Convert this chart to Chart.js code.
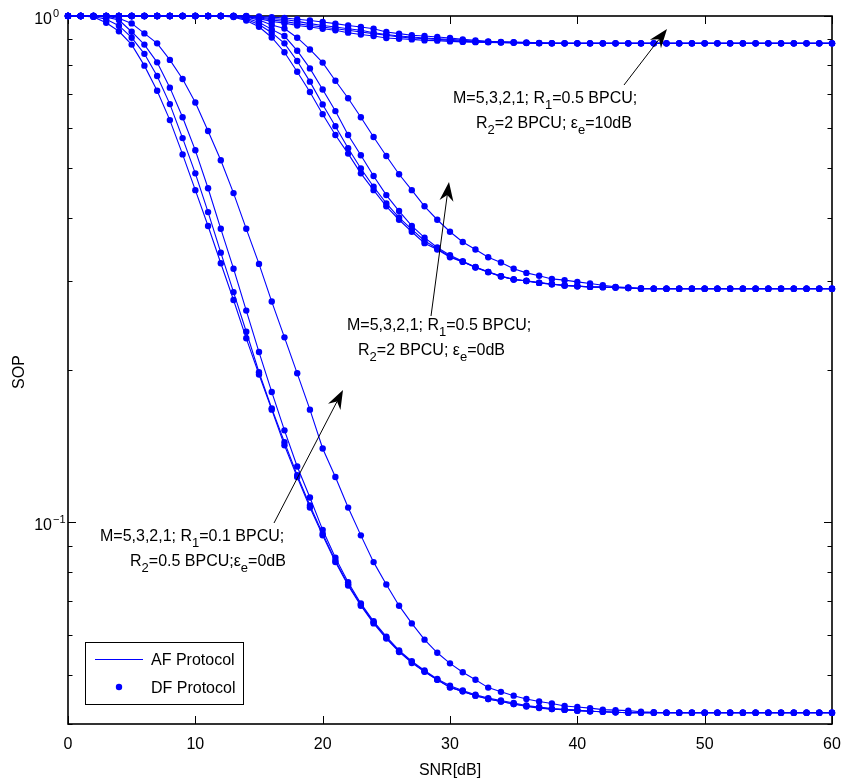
<!DOCTYPE html>
<html>
<head>
<meta charset="utf-8">
<script src="https://cdn.jsdelivr.net/npm/chart.js@4.4.1/dist/chart.umd.min.js"></script>
<style>
  html, body { margin: 0; padding: 0; background: #fff; }
  #wrap { width: 842px; height: 783px; }
</style>
</head>
<body>
<div id="wrap"><canvas id="sopChart" width="842" height="783"></canvas></div>
<script>
// SNR in dB, one sample per dB
const snrDb = [
  0, 1, 2, 3, 4, 5, 6, 7, 8, 9, 10, 11, 12, 13, 14, 15, 16, 17, 18, 19, 20,
  21, 22, 23, 24, 25, 26, 27, 28, 29, 30, 31, 32, 33, 34, 35, 36, 37, 38, 39, 40,
  41, 42, 43, 44, 45, 46, 47, 48, 49, 50, 51, 52, 53, 54, 55, 56, 57, 58, 59, 60,
];

// Group 1: R1=0.1 BPCU, R2=0.5 BPCU, eps_e=0dB
const sopG1M5 = [
  1, 1, 0.996, 0.970, 0.933, 0.878, 0.798, 0.712, 0.623, 0.533,
  0.453, 0.385, 0.325, 0.275, 0.231, 0.196, 0.167, 0.142, 0.123, 0.107,
  0.0943, 0.0835, 0.0751, 0.0685, 0.0632, 0.0590, 0.0555, 0.0528, 0.0507, 0.0489,
  0.0472, 0.0464, 0.0455, 0.0448, 0.0443, 0.0438, 0.0433, 0.0430, 0.0428, 0.0427,
  0.0425, 0.0424, 0.0423, 0.0422, 0.0421, 0.0421, 0.0421, 0.0421, 0.0421, 0.0421,
  0.0421, 0.0421, 0.0421, 0.0421, 0.0421, 0.0421, 0.0421, 0.0421, 0.0421, 0.0421,
  0.0421,
];
const sopG1M3 = [
  1, 1, 0.998, 0.985, 0.957, 0.906, 0.842, 0.761, 0.670, 0.574,
  0.489, 0.410, 0.341, 0.285, 0.238, 0.198, 0.168, 0.144, 0.124, 0.108,
  0.0950, 0.0840, 0.0755, 0.0688, 0.0635, 0.0592, 0.0557, 0.0530, 0.0508, 0.0489,
  0.0473, 0.0464, 0.0455, 0.0448, 0.0443, 0.0438, 0.0434, 0.0431, 0.0428, 0.0427,
  0.0425, 0.0424, 0.0423, 0.0422, 0.0421, 0.0421, 0.0421, 0.0421, 0.0421, 0.0421,
  0.0421, 0.0421, 0.0421, 0.0421, 0.0421, 0.0421, 0.0421, 0.0421, 0.0421, 0.0421,
  0.0421,
];
const sopG1M2 = [
  1, 1, 1, 0.995, 0.982, 0.931, 0.878, 0.810, 0.722, 0.631,
  0.543, 0.457, 0.380, 0.317, 0.262, 0.217, 0.181, 0.152, 0.129, 0.112,
  0.0967, 0.0852, 0.0762, 0.0692, 0.0638, 0.0595, 0.0559, 0.0532, 0.0510, 0.0491,
  0.0476, 0.0466, 0.0457, 0.0450, 0.0445, 0.0440, 0.0435, 0.0432, 0.0429, 0.0427,
  0.0426, 0.0424, 0.0423, 0.0422, 0.0421, 0.0421, 0.0421, 0.0421, 0.0421, 0.0421,
  0.0421, 0.0421, 0.0421, 0.0421, 0.0421, 0.0421, 0.0421, 0.0421, 0.0421, 0.0421,
  0.0421,
];
const sopG1M1 = [
  1, 1, 1, 0.998, 0.990, 0.967, 0.924, 0.883, 0.819, 0.751,
  0.675, 0.593, 0.519, 0.447, 0.380, 0.324, 0.273, 0.232, 0.197, 0.167,
  0.140, 0.123, 0.107, 0.0943, 0.0835, 0.0754, 0.0685, 0.0632, 0.0587, 0.0553,
  0.0527, 0.0506, 0.0489, 0.0472, 0.0463, 0.0455, 0.0448, 0.0443, 0.0439, 0.0434,
  0.0432, 0.0430, 0.0427, 0.0426, 0.0425, 0.0423, 0.0422, 0.0421, 0.0421, 0.0421,
  0.0421, 0.0421, 0.0421, 0.0421, 0.0421, 0.0421, 0.0421, 0.0421, 0.0421, 0.0421,
  0.0421,
];

// Group 2: R1=0.5 BPCU, R2=2 BPCU, eps_e=0dB
const sopG2M5 = [
  1, 1, 1, 1, 1, 1, 1, 1, 1, 1,
  1, 1, 1, 0.995, 0.980, 0.952, 0.907, 0.848, 0.776, 0.708,
  0.640, 0.582, 0.535, 0.489, 0.453, 0.421, 0.396, 0.375, 0.356, 0.346,
  0.334, 0.327, 0.3187, 0.312, 0.306, 0.3017, 0.2998, 0.2972, 0.2954, 0.2936,
  0.2927, 0.2918, 0.2915, 0.2910, 0.2903, 0.2895, 0.2895, 0.2895, 0.2895, 0.2895,
  0.2895, 0.2895, 0.2895, 0.2895, 0.2895, 0.2895, 0.2895, 0.2895, 0.2895, 0.2895,
  0.2895,
];
const sopG2M3 = [
  1, 1, 1, 1, 1, 1, 1, 1, 1, 1,
  1, 1, 1, 0.997, 0.985, 0.962, 0.927, 0.883, 0.815, 0.742,
  0.669, 0.606, 0.548, 0.500, 0.460, 0.4265, 0.400, 0.379, 0.360, 0.347,
  0.335, 0.327, 0.319, 0.3124, 0.3063, 0.3017, 0.2998, 0.2972, 0.2954, 0.2936,
  0.2927, 0.2918, 0.2915, 0.2910, 0.2903, 0.2895, 0.2895, 0.2895, 0.2895, 0.2895,
  0.2895, 0.2895, 0.2895, 0.2895, 0.2895, 0.2895, 0.2895, 0.2895, 0.2895, 0.2895,
  0.2895,
];
const sopG2M2 = [
  1, 1, 1, 1, 1, 1, 1, 1, 1, 1,
  1, 1, 1, 1, 0.990, 0.972, 0.941, 0.913, 0.854, 0.788,
  0.716, 0.649, 0.582, 0.531, 0.483, 0.443, 0.412, 0.385, 0.365, 0.349,
  0.337, 0.328, 0.3195, 0.3125, 0.3065, 0.302, 0.3000, 0.2975, 0.2956, 0.2938,
  0.2928, 0.2919, 0.2915, 0.2910, 0.2903, 0.2895, 0.2895, 0.2895, 0.2895, 0.2895,
  0.2895, 0.2895, 0.2895, 0.2895, 0.2895, 0.2895, 0.2895, 0.2895, 0.2895, 0.2895,
  0.2895,
];
const sopG2M1 = [
  1, 1, 1, 1, 1, 1, 1, 1, 1, 1,
  1, 1, 1, 1, 0.995, 0.982, 0.960, 0.945, 0.906, 0.859,
  0.809, 0.745, 0.688, 0.631, 0.577, 0.529, 0.487, 0.453, 0.421, 0.396,
  0.375, 0.358, 0.346, 0.334, 0.326, 0.317, 0.311, 0.307, 0.3026, 0.3009,
  0.2985, 0.2963, 0.2940, 0.2918, 0.2910, 0.2900, 0.2895, 0.2895, 0.2895, 0.2895,
  0.2895, 0.2895, 0.2895, 0.2895, 0.2895, 0.2895, 0.2895, 0.2895, 0.2895, 0.2895,
  0.2895,
];

// Group 3: R1=0.5 BPCU, R2=2 BPCU, eps_e=10dB
const sopG3M5 = [
  1, 1, 1, 1, 1, 1, 1, 1, 1, 1,
  1, 1, 1, 1, 0.997, 0.988, 0.975, 0.968, 0.958, 0.951,
  0.944, 0.937, 0.927, 0.919, 0.913, 0.905, 0.902, 0.899, 0.895, 0.894,
  0.891, 0.889, 0.888, 0.887, 0.886, 0.885, 0.884, 0.883, 0.883, 0.883,
  0.883, 0.883, 0.883, 0.883, 0.883, 0.883, 0.883, 0.883, 0.883, 0.883,
  0.883, 0.883, 0.883, 0.883, 0.883, 0.883, 0.883, 0.883, 0.883, 0.883,
  0.883,
];
const sopG3M3 = [
  1, 1, 1, 1, 1, 1, 1, 1, 1, 1,
  1, 1, 1, 1, 0.998, 0.992, 0.982, 0.976, 0.966, 0.958,
  0.951, 0.944, 0.937, 0.930, 0.923, 0.916, 0.909, 0.905, 0.902, 0.899,
  0.895, 0.891, 0.889, 0.889, 0.887, 0.886, 0.885, 0.884, 0.883, 0.883,
  0.883, 0.883, 0.883, 0.883, 0.883, 0.883, 0.883, 0.883, 0.883, 0.883,
  0.883, 0.883, 0.883, 0.883, 0.883, 0.883, 0.883, 0.883, 0.883, 0.883,
  0.883,
];
const sopG3M2 = [
  1, 1, 1, 1, 1, 1, 1, 1, 1, 1,
  1, 1, 1, 1, 0.999, 0.995, 0.988, 0.984, 0.976, 0.966,
  0.958, 0.951, 0.944, 0.937, 0.927, 0.919, 0.913, 0.909, 0.905, 0.902,
  0.899, 0.895, 0.891, 0.889, 0.888, 0.887, 0.885, 0.884, 0.883, 0.883,
  0.883, 0.883, 0.883, 0.883, 0.883, 0.883, 0.883, 0.883, 0.883, 0.883,
  0.883, 0.883, 0.883, 0.883, 0.883, 0.883, 0.883, 0.883, 0.883, 0.883,
  0.883,
];
const sopG3M1 = [
  1, 1, 1, 1, 1, 1, 1, 1, 1, 1,
  1, 1, 1, 1, 1, 0.998, 0.995, 0.991, 0.985, 0.980,
  0.973, 0.966, 0.958, 0.951, 0.944, 0.930, 0.923, 0.916, 0.913, 0.909,
  0.905, 0.899, 0.895, 0.891, 0.889, 0.888, 0.887, 0.885, 0.884, 0.883,
  0.883, 0.883, 0.883, 0.883, 0.883, 0.883, 0.883, 0.883, 0.883, 0.883,
  0.883, 0.883, 0.883, 0.883, 0.883, 0.883, 0.883, 0.883, 0.883, 0.883,
  0.883,
];

// Axis ticks
const xTicks = [0, 10, 20, 30, 40, 50, 60];
const yMajorTicks = [0.1, 1];
const yMinorTicks = [0.04, 0.05, 0.06, 0.07, 0.08, 0.09, 0.2, 0.3, 0.4, 0.5, 0.6, 0.7, 0.8, 0.9];
const yTickExponents = ["-1", "0"];

const legendLabels = ["AF Protocol", "DF Protocol"];

const BLUE = "#0000ff";
const FONT = "16px 'Liberation Sans', Arial, sans-serif";
const SUB_FONT = "13px 'Liberation Sans', Arial, sans-serif";

const curves = [
  sopG1M5, sopG1M3, sopG1M2, sopG1M1,
  sopG2M5, sopG2M3, sopG2M2, sopG2M1,
  sopG3M5, sopG3M3, sopG3M2, sopG3M1,
];

const toPoints = (vals) => vals.map((v, i) => ({ x: snrDb[i], y: v }));

const datasets = [];
// AF: solid lines
curves.forEach((vals) => {
  datasets.push({
    data: toPoints(vals),
    borderColor: BLUE,
    borderWidth: 1.1,
    pointRadius: 0,
    fill: false,
    tension: 0,
    clip: false,
  });
});
// DF: dots only
curves.forEach((vals) => {
  datasets.push({
    data: toPoints(vals),
    showLine: false,
    pointRadius: 3.2,
    pointBackgroundColor: BLUE,
    pointBorderColor: BLUE,
    pointBorderWidth: 0,
    clip: false,
  });
});

// Text with sub-scripts: parts = [[text, isSub], ...]
function drawRich(ctx, x, y, parts) {
  let cx = x;
  parts.forEach(([t, sub]) => {
    ctx.font = sub ? SUB_FONT : FONT;
    ctx.fillText(t, cx, sub ? y + 6 : y);
    cx += ctx.measureText(t).width;
  });
}

function drawArrow(ctx, x0, y0, x1, y1) {
  const ang = Math.atan2(y1 - y0, x1 - x0);
  const len = 19, half = 7, notch = 13;
  const bx = x1 - len * Math.cos(ang), by = y1 - len * Math.sin(ang);
  const nx = x1 - notch * Math.cos(ang), ny = y1 - notch * Math.sin(ang);
  const px = -Math.sin(ang) * half, py = Math.cos(ang) * half;
  ctx.beginPath();
  ctx.moveTo(x0, y0);
  ctx.lineTo(nx, ny);
  ctx.stroke();
  ctx.beginPath();
  ctx.moveTo(x1, y1);
  ctx.lineTo(bx + px, by + py);
  ctx.lineTo(nx, ny);
  ctx.lineTo(bx - px, by - py);
  ctx.closePath();
  ctx.fill();
}

const matlabAxes = {
  id: "matlabAxes",
  beforeDatasetsDraw(chart) {
    const { ctx, chartArea: a, scales: { x, y } } = chart;
    ctx.save();
    ctx.strokeStyle = "#000";
    ctx.lineWidth = 1;
    ctx.beginPath();
    xTicks.forEach((v) => {
      const px = Math.round(x.getPixelForValue(v)) + 0.5;
      ctx.moveTo(px, a.bottom); ctx.lineTo(px, a.bottom - 8);
      ctx.moveTo(px, a.top); ctx.lineTo(px, a.top + 8);
    });
    yMajorTicks.forEach((v) => {
      const py = Math.round(y.getPixelForValue(v)) + 0.5;
      ctx.moveTo(a.left, py); ctx.lineTo(a.left + 8, py);
      ctx.moveTo(a.right, py); ctx.lineTo(a.right - 8, py);
    });
    yMinorTicks.forEach((v) => {
      const py = Math.round(y.getPixelForValue(v)) + 0.5;
      ctx.moveTo(a.left, py); ctx.lineTo(a.left + 4.5, py);
      ctx.moveTo(a.right, py); ctx.lineTo(a.right - 4.5, py);
    });
    ctx.stroke();
    ctx.lineWidth = 1.6;
    ctx.strokeRect(a.left, a.top, a.right - a.left, a.bottom - a.top);
    ctx.restore();
  },
  afterDraw(chart) {
    const { ctx, chartArea: a, scales: { x, y } } = chart;
    ctx.save();
    ctx.fillStyle = "#000";
    ctx.strokeStyle = "#000";

    // x tick labels
    ctx.font = FONT;
    ctx.textAlign = "center";
    ctx.textBaseline = "alphabetic";
    xTicks.forEach((v) => ctx.fillText(String(v), x.getPixelForValue(v), a.bottom + 25));

    // y tick labels 10^n
    yMajorTicks.forEach((v, i) => {
      const py = y.getPixelForValue(v);
      ctx.font = FONT;
      ctx.textAlign = "right";
      ctx.fillText("10", 52, py + 7.5);
      ctx.font = "11px 'Liberation Sans', Arial, sans-serif";
      ctx.textAlign = "left";
      ctx.fillText(yTickExponents[i].replace("-", "\u2212"), 53, py + 1);
    });

    // axis titles
    ctx.font = FONT;
    ctx.textAlign = "center";
    ctx.fillText("SNR[dB]", (a.left + a.right) / 2, 775);
    ctx.save();
    ctx.translate(24, 372);
    ctx.rotate(-Math.PI / 2);
    ctx.fillText("SOP", 0, 0);
    ctx.restore();

    // annotations
    ctx.textAlign = "left";
    drawRich(ctx, 100, 541, [["M=5,3,2,1; R"], ["1", true], ["=0.1 BPCU;"]]);
    drawRich(ctx, 130, 566, [["R"], ["2", true], ["=0.5 BPCU;\u03b5"], ["e", true], ["=0dB"]]);
    drawRich(ctx, 347, 330, [["M=5,3,2,1; R"], ["1", true], ["=0.5 BPCU;"]]);
    drawRich(ctx, 358, 355, [["R"], ["2", true], ["=2 BPCU; \u03b5"], ["e", true], ["=0dB"]]);
    drawRich(ctx, 453, 103, [["M=5,3,2,1; R"], ["1", true], ["=0.5 BPCU;"]]);
    drawRich(ctx, 476, 128, [["R"], ["2", true], ["=2 BPCU; \u03b5"], ["e", true], ["=10dB"]]);

    ctx.lineWidth = 1;
    drawArrow(ctx, 274, 523, 343, 390);
    drawArrow(ctx, 431, 316, 449, 182);
    drawArrow(ctx, 624, 85, 667, 29);

    // legend
    ctx.fillStyle = "#fff";
    ctx.fillRect(85, 642, 158, 62);
    ctx.strokeRect(85.5, 642.5, 158, 62);
    ctx.strokeStyle = BLUE;
    ctx.lineWidth = 1.2;
    ctx.beginPath();
    ctx.moveTo(95, 659.5);
    ctx.lineTo(143, 659.5);
    ctx.stroke();
    ctx.fillStyle = BLUE;
    ctx.beginPath();
    ctx.arc(119, 687, 3.2, 0, Math.PI * 2);
    ctx.fill();
    ctx.fillStyle = "#000";
    ctx.font = FONT;
    ctx.fillText(legendLabels[0], 151, 665);
    ctx.fillText(legendLabels[1], 151, 693);
    ctx.restore();
  },
};

new Chart(document.getElementById("sopChart"), {
  type: "line",
  data: { datasets },
  options: {
    responsive: false,
    animation: false,
    events: [],
    layout: { padding: { left: 68, right: 10, top: 16, bottom: 59 } },
    scales: {
      x: { type: "linear", min: 0, max: 60, display: false },
      y: { type: "logarithmic", min: 0.04, max: 1, display: false },
    },
    plugins: { legend: { display: false }, tooltip: { enabled: false } },
  },
  plugins: [matlabAxes],
});
</script>
</body>
</html>
